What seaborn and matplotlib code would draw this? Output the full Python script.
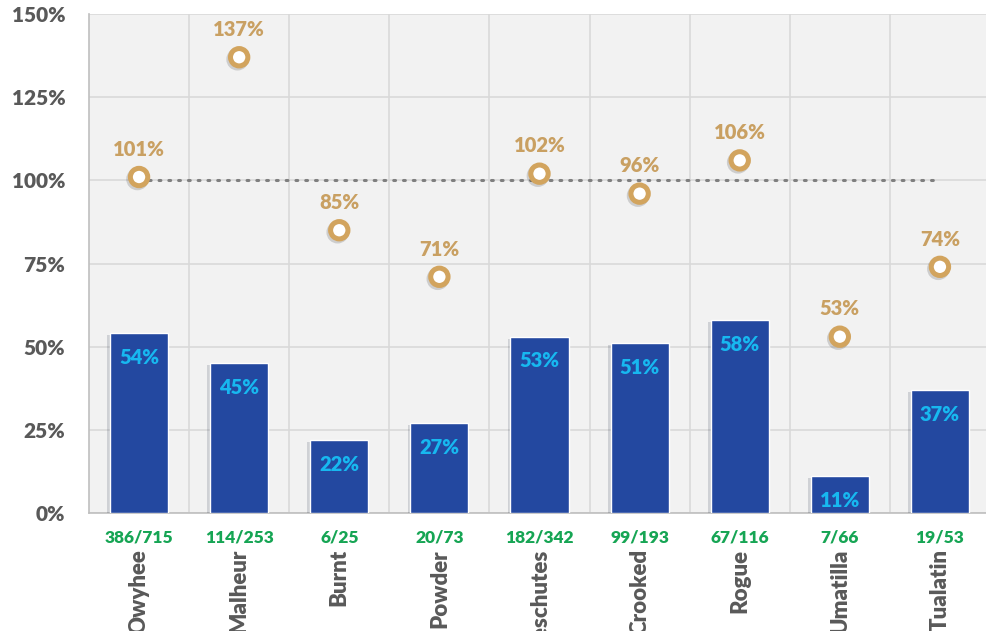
#!/usr/bin/env python
"""Bar + marker chart of county percentages (bars) with target ratio
markers, drawn with seaborn on a light grey plot area.
"""
import matplotlib
matplotlib.use('Agg')
import matplotlib.pyplot as plt
import matplotlib.patheffects as pe
import seaborn as sb
import pandas as pd
import numpy as np


# chart values
counties = ['Owyhee', 'Malheur', 'Burnt', 'Powder', 'Deschutes',
            'Crooked', 'Rogue', 'Umatilla', 'Tualatin']
fractions = ['386/715', '114/253', '6/25', '20/73', '182/342',
             '99/193', '67/116', '7/66', '19/53']
bar_pct = [54, 45, 22, 27, 53, 51, 58, 11, 37]
marker_pct = [101, 137, 85, 71, 102, 96, 106, 53, 74]
target_pct = 100
y_ticks = [0, 25, 50, 75, 100, 125, 150]

bar_color = '#2348A0'
bar_text = '#17B8F0'
ring_color = '#D2A45E'
ring_text = '#C9A062'
frac_color = '#16A554'
gray_text = '#595959'
grid_color = '#D9D9D9'


def create_figure(output_file):
    df = pd.DataFrame({'county': counties, 'pct': bar_pct,
                       'marker': marker_pct})

    sb.set_style('white')
    plt.rcParams['font.family'] = ['Lato', 'DejaVu Sans']

    fig = plt.figure(figsize=(9.86, 6.31), dpi=100)
    ax = fig.add_axes([89 / 986, 118 / 631, 901 / 986, 499 / 631])
    ax.set_facecolor('#F2F2F2')

    shadow = [pe.SimplePatchShadow(offset=(-2, -1.5), alpha=0.15), pe.Normal()]
    sb.barplot(x='county', y='pct', data=df, color=bar_color,
               saturation=1, width=0.58, ax=ax, zorder=3)
    for patch in ax.patches:
        patch.set_path_effects(shadow)

    pos = np.arange(len(counties))
    # target line from first to last county
    ax.plot([pos[0], pos[-1]], [target_pct, target_pct], color='#7F7F7F',
            linestyle=(0, (0.6, 2.6)), linewidth=2.2,
            dash_capstyle='round', zorder=2)

    ax.plot(pos, df['marker'], linestyle='none', marker='o', markersize=12.5,
            markerfacecolor='white', markeredgecolor=ring_color,
            markeredgewidth=3.6, zorder=5,
            path_effects=[pe.SimpleLineShadow(offset=(-1.2, -1.5), alpha=0.15),
                          pe.Normal()])

    for i, (b, m) in enumerate(zip(bar_pct, marker_pct)):
        ax.annotate(f'{b}%', (i, b), xytext=(0, -17.5),
                    textcoords='offset points', ha='center', va='center',
                    fontsize=14.5, fontweight='heavy', color=bar_text, zorder=6)
        ax.annotate(f'{m}%', (i, m), xytext=(0, 20),
                    textcoords='offset points', ha='center', va='center',
                    fontsize=14.5, fontweight='heavy', color=ring_text, zorder=6)

    # axes, ticks and grid
    ax.set_xlim(-0.5, len(counties) - 0.5)
    ax.set_ylim(0, 150)
    ax.set_yticks(y_ticks)
    ax.set_yticklabels([f'{t}%' for t in y_ticks], fontsize=15,
                       fontweight='heavy', color=gray_text)
    ax.set_xticks(pos)
    ax.set_xticklabels(fractions, fontsize=12.5, fontweight='heavy',
                       color=frac_color)
    ax.set_xticks(pos[:-1] + 0.5, minor=True)
    ax.tick_params(axis='x', which='major', length=0, pad=12)
    ax.tick_params(axis='x', which='minor', length=6, width=1.2,
                   color='#BFBFBF')
    ax.tick_params(axis='y', length=5, width=1.2, color='#BFBFBF', pad=12)
    ax.grid(axis='y', color=grid_color, linewidth=1.2, zorder=0)
    ax.grid(axis='x', which='minor', color=grid_color, linewidth=1.2,
            zorder=0)
    ax.set_axisbelow(True)
    for side in ['top', 'right']:
        ax.spines[side].set_visible(False)
    for side in ['left', 'bottom']:
        ax.spines[side].set_color('#BFBFBF')
        ax.spines[side].set_linewidth(1.2)
    ax.set_xlabel('')
    ax.set_ylabel('')

    # county names, rotated under the fraction labels
    for i, name in enumerate(counties):
        ax.annotate(name, (i, 0), xycoords=('data', 'axes fraction'),
                    xytext=(0, -26), textcoords='offset points',
                    rotation=90, ha='center', va='top', fontsize=16,
                    fontweight='heavy', color=gray_text,
                    annotation_clip=False)

    fig.savefig(output_file, dpi=100)


def main():
    create_figure('out.png')


if __name__ == "__main__":
    main()
